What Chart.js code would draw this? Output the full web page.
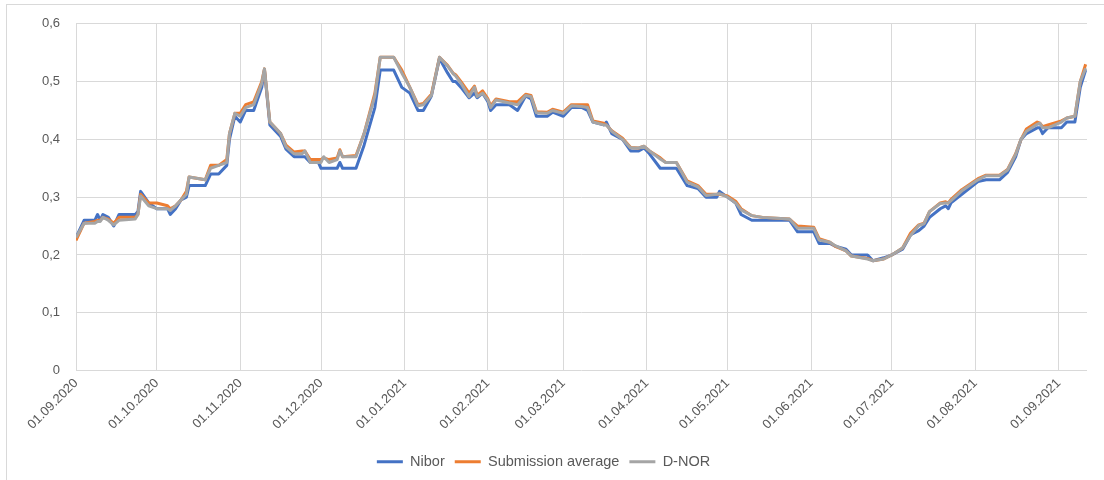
<!DOCTYPE html>
<html>
<head>
<meta charset="utf-8">
<script src="https://cdn.jsdelivr.net/npm/chart.js@4.4.1/dist/chart.umd.min.js"></script>
<style>
  html, body { margin: 0; padding: 0; background: #fff; overflow: hidden; }
  #frame { position: absolute; left: 6px; top: 4px; width: 1120px; height: 500px; border: 1px solid #d9d9d9; }
  #wrap { position: absolute; left: 0; top: 0; width: 1104px; height: 480px; }
</style>
</head>
<body>
<div id="frame"></div>
<div id="wrap"><canvas id="chart"></canvas></div>
<script>
// dager etter 01.09.2020
var days = [
  0, 3, 7, 8, 9, 10, 12, 14, 16, 22, 23, 24, 27, 30, 34, 35, 37, 39, 41, 42,
  48, 50, 53, 56, 57, 59, 61, 63, 66, 69, 70, 72, 76, 78, 81, 84, 85, 87, 90, 91,
  92, 94, 97, 98, 99, 104, 107, 111, 113, 118, 121, 124, 127, 129, 132, 135, 138, 140, 141, 143,
  146, 148, 149, 151, 153, 154, 156, 161, 164, 167, 169, 171, 175, 177, 181, 184, 188, 190, 192, 196,
  197, 199, 203, 206, 209, 211, 213, 217, 219, 223, 227, 231, 234, 238, 239, 242, 245, 247, 251, 255,
  265, 268, 274, 276, 280, 282, 286, 288, 294, 296, 300, 303, 307, 310, 313, 315, 317, 321, 323, 324,
  325, 329, 335, 338, 343, 346, 349, 351, 353, 357, 358, 359, 361, 366, 368, 371, 373, 375
];

var nibor = [
  0.23, 0.26, 0.26, 0.27, 0.26, 0.27, 0.265, 0.25, 0.27, 0.27, 0.275, 0.31, 0.29, 0.28, 0.28, 0.27, 0.28, 0.295, 0.30, 0.32,
  0.32, 0.34, 0.34, 0.355, 0.40, 0.44, 0.43, 0.45, 0.45, 0.49, 0.52, 0.425, 0.405, 0.383, 0.37, 0.37, 0.37, 0.36, 0.36, 0.35,
  0.35, 0.35, 0.35, 0.36, 0.35, 0.35, 0.39, 0.455, 0.52, 0.52, 0.49, 0.48, 0.45, 0.45, 0.475, 0.54, 0.515, 0.50, 0.50, 0.49,
  0.472, 0.48, 0.472, 0.48, 0.465, 0.45, 0.46, 0.46, 0.45, 0.475, 0.47, 0.44, 0.44, 0.447, 0.44, 0.455, 0.455, 0.45, 0.43, 0.425,
  0.43, 0.41, 0.40, 0.38, 0.38, 0.385, 0.375, 0.35, 0.35, 0.35, 0.32, 0.315, 0.30, 0.30, 0.31, 0.30, 0.29, 0.27, 0.26, 0.26,
  0.26, 0.24, 0.24, 0.22, 0.22, 0.215, 0.21, 0.20, 0.20, 0.19, 0.195, 0.20, 0.21, 0.235, 0.242, 0.25, 0.265, 0.28, 0.285, 0.28,
  0.29, 0.305, 0.327, 0.33, 0.33, 0.343, 0.37, 0.40, 0.41, 0.42, 0.42, 0.41, 0.42, 0.42, 0.43, 0.43, 0.49, 0.52
];

var submissionAvg = [
  0.225, 0.255, 0.258, 0.26, 0.26, 0.265, 0.262, 0.255, 0.265, 0.265, 0.27, 0.305, 0.29, 0.29, 0.285, 0.28, 0.285, 0.295, 0.31, 0.335,
  0.33, 0.355, 0.355, 0.365, 0.41, 0.445, 0.445, 0.46, 0.465, 0.50, 0.522, 0.43, 0.41, 0.39, 0.378, 0.38, 0.38, 0.365, 0.365, 0.365,
  0.368, 0.365, 0.368, 0.382, 0.37, 0.372, 0.41, 0.48, 0.542, 0.542, 0.52, 0.49, 0.46, 0.462, 0.478, 0.542, 0.528, 0.515, 0.512, 0.50,
  0.48, 0.492, 0.476, 0.484, 0.47, 0.458, 0.47, 0.465, 0.465, 0.478, 0.476, 0.448, 0.447, 0.452, 0.447, 0.46, 0.46, 0.46, 0.432, 0.428,
  0.425, 0.415, 0.402, 0.386, 0.385, 0.388, 0.38, 0.368, 0.36, 0.36, 0.328, 0.32, 0.305, 0.305, 0.305, 0.302, 0.293, 0.28, 0.268, 0.265,
  0.262, 0.25, 0.248, 0.228, 0.222, 0.215, 0.207, 0.198, 0.194, 0.19, 0.193, 0.20, 0.212, 0.238, 0.252, 0.255, 0.275, 0.29, 0.292, 0.29,
  0.296, 0.313, 0.332, 0.338, 0.338, 0.348, 0.375, 0.40, 0.418, 0.43, 0.428, 0.422, 0.425, 0.432, 0.437, 0.44, 0.50, 0.53
];

var dnor = [
  0.23, 0.255, 0.255, 0.258, 0.258, 0.265, 0.26, 0.252, 0.26, 0.262, 0.27, 0.302, 0.285, 0.28, 0.28, 0.277, 0.285, 0.295, 0.305, 0.335,
  0.33, 0.35, 0.355, 0.36, 0.41, 0.445, 0.44, 0.455, 0.46, 0.497, 0.522, 0.43, 0.41, 0.387, 0.375, 0.375, 0.38, 0.36, 0.36, 0.36,
  0.37, 0.36, 0.365, 0.38, 0.37, 0.37, 0.41, 0.475, 0.542, 0.542, 0.515, 0.49, 0.458, 0.46, 0.476, 0.542, 0.527, 0.514, 0.51, 0.497,
  0.474, 0.49, 0.474, 0.48, 0.468, 0.455, 0.468, 0.463, 0.46, 0.476, 0.474, 0.446, 0.445, 0.45, 0.445, 0.458, 0.457, 0.455, 0.43, 0.425,
  0.425, 0.414, 0.40, 0.385, 0.385, 0.388, 0.38, 0.366, 0.36, 0.36, 0.326, 0.318, 0.303, 0.305, 0.306, 0.30, 0.29, 0.278, 0.268, 0.265,
  0.262, 0.246, 0.246, 0.226, 0.222, 0.216, 0.207, 0.198, 0.193, 0.19, 0.193, 0.20, 0.212, 0.234, 0.251, 0.254, 0.275, 0.289, 0.29, 0.29,
  0.294, 0.311, 0.33, 0.337, 0.337, 0.347, 0.374, 0.40, 0.414, 0.426, 0.428, 0.42, 0.42, 0.43, 0.437, 0.44, 0.50, 0.523
];

var monthLabels = [
  "01.09.2020", "01.10.2020", "01.11.2020", "01.12.2020", "01.01.2021", "01.02.2021", "01.03.2021",
  "01.04.2021", "01.05.2021", "01.06.2021", "01.07.2021", "01.08.2021", "01.09.2021"
];

var seriesNames = ["Nibor", "Submission average", "D-NOR"];
var seriesColors = ["#4472C4", "#ED7D31", "#A5A5A5"];

// dd.mm.yyyy -> dager etter start
function dayOffset(label) {
  var p = label.split(".");
  var t = Date.UTC(+p[2], +p[1] - 1, +p[0]);
  return Math.round((t - Date.UTC(2020, 8, 1)) / 86400000);
}
var monthDays = monthLabels.map(dayOffset);

function toPoints(values) {
  return values.map(function (v, i) { return { x: days[i], y: v }; });
}

var textColor = "#595959";
var gridColor = "#d9d9d9";
var tickFont = { family: "'Liberation Sans', Arial, sans-serif", size: 13 };
var legendFont = { family: "'Liberation Sans', Arial, sans-serif", size: 14.5 };

var ctx = document.getElementById("chart").getContext("2d");
new Chart(ctx, {
  type: "line",
  data: {
    datasets: [nibor, submissionAvg, dnor].map(function (vals, i) {
      return {
        label: seriesNames[i],
        data: toPoints(vals),
        borderColor: seriesColors[i],
        backgroundColor: seriesColors[i],
        borderWidth: 3,
        pointRadius: 0,
        tension: 0,
        borderJoinStyle: "round",
        order: 3 - i,
      };
    }),
  },
  options: {
    responsive: true,
    maintainAspectRatio: false,
    animation: false,
    events: [],
    layout: { padding: { left: 0, right: 17, top: 18, bottom: 1 } },
    plugins: {
      tooltip: { enabled: false },
      legend: {
        position: "bottom",
        labels: {
          color: textColor,
          font: legendFont,
          usePointStyle: true,
          pointStyle: "line",
          pointStyleWidth: 26,
          padding: 10,
          sort: function (a, b) { return a.datasetIndex - b.datasetIndex; },
        },
      },
    },
    scales: {
      x: {
        type: "linear",
        min: 0,
        max: 375.5,
        grid: { color: gridColor, drawTicks: false },
        border: { display: false },
        afterBuildTicks: function (scale) {
          scale.ticks = monthDays.map(function (d) { return { value: d }; });
        },
        afterFit: function (scale) { scale.height = 74; },
        ticks: {
          autoSkip: false,
          minRotation: 45,
          maxRotation: 45,
          padding: 5,
          color: textColor,
          font: tickFont,
          callback: function (v) {
            var i = monthDays.indexOf(v);
            return i >= 0 ? monthLabels[i] : "";
          },
        },
      },
      y: {
        min: 0,
        max: 0.6,
        grid: { color: gridColor, drawTicks: false },
        border: { display: false },
        afterFit: function (scale) { scale.width = 76; },
        ticks: {
          stepSize: 0.1,
          padding: 16,
          color: textColor,
          font: tickFont,
          callback: function (v) {
            return v === 0 ? "0" : v.toFixed(1).replace(".", ",");
          },
        },
      },
    },
  },
});
</script>
</body>
</html>
